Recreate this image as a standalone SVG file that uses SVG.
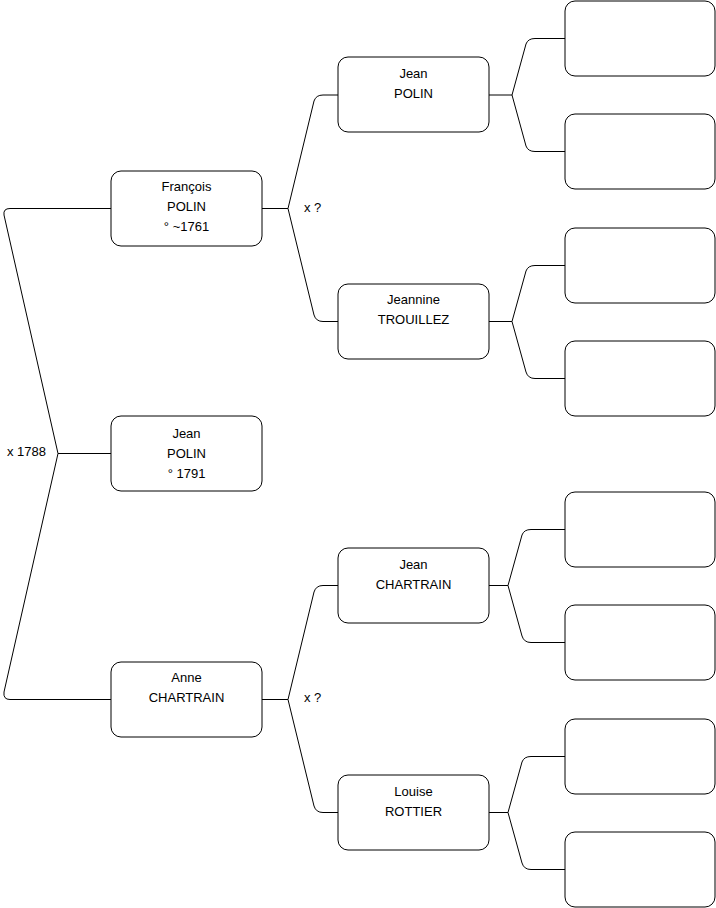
<svg xmlns="http://www.w3.org/2000/svg" width="716" height="908" viewBox="0 0 716 908">
<style>
.n rect{fill:#fff;stroke:#000;stroke-width:1}
text{font-family:"Liberation Sans",Arial,sans-serif;font-size:13px;fill:#000;text-anchor:middle}
.l{text-anchor:start}
.c path{fill:none;stroke:#000;stroke-width:1}
</style>
<rect width="716" height="908" fill="#fff"/>
<g class="c" id="connectors">
<path d="M111,208.5 H10 Q3,208.5 4,215 L58,453.5 H111"/>
<path d="M111,699.5 H10 Q3,699.5 4,692 L58,453.5"/>
<path d="M262,208.5 H288 L314,101 Q316,95 323,95 H338"/>
<path d="M288,208.5 L314,315 Q316,321.5 323,321.5 H338"/>
<path d="M262,699.5 H288 L314,592 Q316,585.5 323,585.5 H338"/>
<path d="M288,699.5 L314,806 Q316,812.5 323,812.5 H338"/>
<path d="M489,95 H512 L526,44 Q528,38.5 535,38.5 H565"/>
<path d="M512,95 L526,146 Q528,151.5 535,151.5 H565"/>
<path d="M489,321.5 H512 L526,271 Q528,265.5 535,265.5 H565"/>
<path d="M512,321.5 L526,372 Q528,378.5 535,378.5 H565"/>
<path d="M489,585.5 H508 L522,535 Q524,529.5 531,529.5 H565"/>
<path d="M508,585.5 L522,636 Q524,642.5 531,642.5 H565"/>
<path d="M489,812.5 H508 L522,762 Q524,756.5 531,756.5 H565"/>
<path d="M508,812.5 L522,863 Q524,869.5 531,869.5 H565"/>
</g>
<text class="l" x="7" y="456">x 1788</text>
<text class="l" x="304" y="211.5">x ?</text>
<text class="l" x="304" y="702">x ?</text>
<g class="n" id="francois"><rect x="111" y="171" width="151" height="75" rx="10"/><text x="186.5" y="191">François</text><text x="186.5" y="211">POLIN</text><text x="186.5" y="231">° ~1761</text></g>
<g class="n" id="jean0"><rect x="111" y="416" width="151" height="75" rx="10"/><text x="186.5" y="438">Jean</text><text x="186.5" y="458">POLIN</text><text x="186.5" y="478">° 1791</text></g>
<g class="n" id="anne"><rect x="111" y="662" width="151" height="75" rx="10"/><text x="186.5" y="682">Anne</text><text x="186.5" y="702">CHARTRAIN</text></g>
<g class="n" id="jean1"><rect x="338" y="57" width="151" height="75" rx="10"/><text x="413.5" y="77.5">Jean</text><text x="413.5" y="97.5">POLIN</text></g>
<g class="n" id="jeannine"><rect x="338" y="284" width="151" height="75" rx="10"/><text x="413.5" y="304">Jeannine</text><text x="413.5" y="324">TROUILLEZ</text></g>
<g class="n" id="jeanc"><rect x="338" y="548" width="151" height="75" rx="10"/><text x="413.5" y="568.5">Jean</text><text x="413.5" y="588.5">CHARTRAIN</text></g>
<g class="n" id="louise"><rect x="338" y="775" width="151" height="75" rx="10"/><text x="413.5" y="796">Louise</text><text x="413.5" y="816">ROTTIER</text></g>
<g class="n" id="g1"><rect x="565" y="1" width="150" height="75" rx="10"/></g>
<g class="n" id="g2"><rect x="565" y="114" width="150" height="75" rx="10"/></g>
<g class="n" id="g3"><rect x="565" y="228" width="150" height="75" rx="10"/></g>
<g class="n" id="g4"><rect x="565" y="341" width="150" height="75" rx="10"/></g>
<g class="n" id="g5"><rect x="565" y="492" width="150" height="75" rx="10"/></g>
<g class="n" id="g6"><rect x="565" y="605" width="150" height="75" rx="10"/></g>
<g class="n" id="g7"><rect x="565" y="719" width="150" height="75" rx="10"/></g>
<g class="n" id="g8"><rect x="565" y="832" width="150" height="75" rx="10"/></g>
</svg>
